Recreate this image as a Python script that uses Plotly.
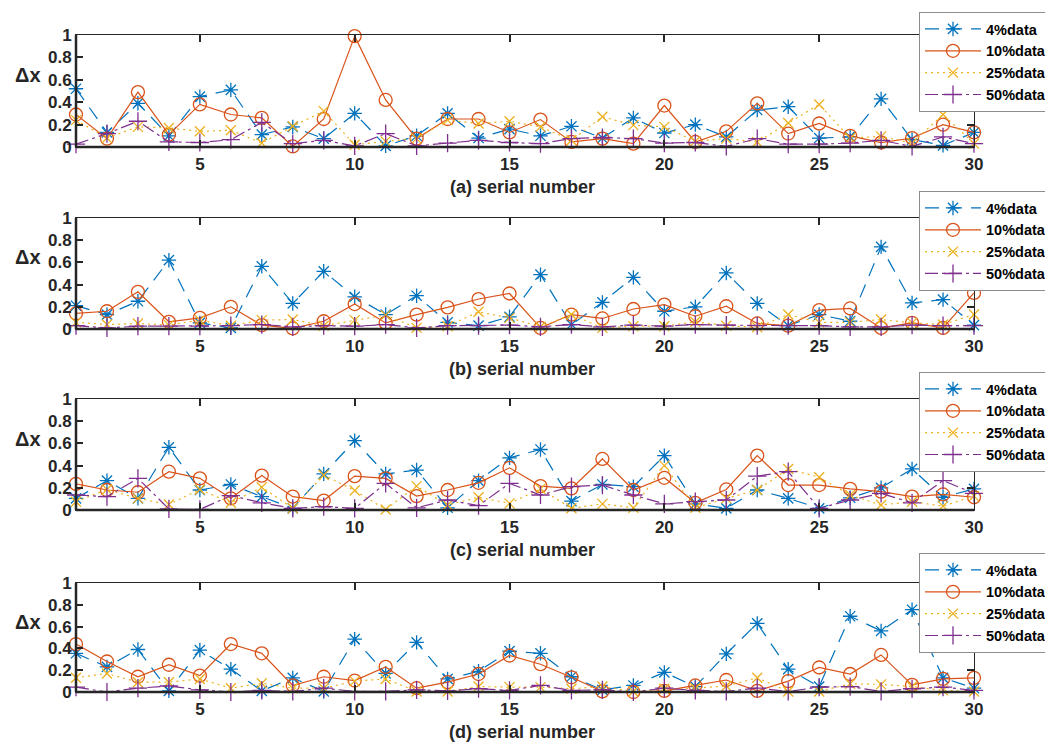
import plotly.graph_objects as go
from plotly.subplots import make_subplots

x = list(range(1, 31))
series_names = ["4%data", "10%data", "25%data", "50%data"]
panel_titles = ["(a) serial number", "(b) serial number", "(c) serial number", "(d) serial number"]

a_4 = [0.52,0.13,0.39,0.10,0.45,0.51,0.11,0.18,0.075,0.30,0.01,0.10,0.30,0.08,0.16,0.10,0.185,0.08,0.26,0.125,0.20,0.09,0.33,0.36,0.08,0.09,0.43,0.065,0.015,0.13]
a_10 = [0.29,0.075,0.49,0.11,0.38,0.29,0.26,0.005,0.25,0.99,0.42,0.075,0.25,0.25,0.13,0.245,0.045,0.075,0.03,0.37,0.045,0.14,0.39,0.12,0.21,0.10,0.04,0.08,0.20,0.13]
a_25 = [0.24,0.08,0.18,0.17,0.14,0.15,0.035,0.185,0.32,0.02,0.05,0.075,0.24,0.21,0.23,0.18,0.06,0.27,0.195,0.18,0.05,0.075,0.045,0.215,0.38,0.08,0.095,0.035,0.29,0.03]
a_50 = [0.025,0.12,0.23,0.045,0.04,0.065,0.22,0.03,0.06,0.01,0.12,0.01,0.035,0.06,0.04,0.03,0.075,0.085,0.075,0.035,0.04,0.005,0.075,0.025,0.025,0.035,0.06,0.005,0.09,0.03]

b_4 = [0.21,0.13,0.25,0.62,0.055,0.01,0.565,0.23,0.52,0.29,0.13,0.30,0.06,0.03,0.11,0.49,0.04,0.24,0.465,0.16,0.20,0.505,0.23,0.03,0.13,0.07,0.74,0.235,0.265,0.035]
b_10 = [0.14,0.16,0.335,0.065,0.10,0.20,0.035,0.005,0.07,0.225,0.055,0.13,0.195,0.27,0.32,0.01,0.13,0.095,0.18,0.22,0.115,0.205,0.05,0.03,0.17,0.185,0.01,0.055,0.01,0.325]
b_25 = [0.06,0.04,0.05,0.035,0.08,0.03,0.08,0.085,0.03,0.08,0.125,0.01,0.025,0.155,0.10,0.02,0.13,0.01,0.025,0.025,0.065,0.03,0.015,0.13,0.06,0.06,0.085,0.055,0.04,0.13]
b_50 = [0.03,0.01,0.025,0.025,0.025,0.03,0.04,0.02,0.03,0.025,0.04,0.01,0.03,0.03,0.035,0.02,0.04,0.02,0.035,0.025,0.04,0.035,0.03,0.03,0.03,0.02,0.02,0.035,0.03,0.03]

c_4 = [0.105,0.265,0.105,0.565,0.18,0.23,0.12,0.015,0.325,0.625,0.325,0.36,0.02,0.265,0.47,0.545,0.08,0.23,0.21,0.49,0.055,0.015,0.18,0.105,0.015,0.11,0.20,0.37,0.115,0.19]
c_10 = [0.235,0.18,0.16,0.345,0.285,0.105,0.31,0.12,0.085,0.305,0.285,0.125,0.18,0.245,0.38,0.215,0.195,0.46,0.18,0.29,0.065,0.185,0.49,0.225,0.225,0.19,0.165,0.12,0.14,0.115]
c_25 = [0.075,0.185,0.105,0.05,0.185,0.065,0.205,0.015,0.315,0.175,0.005,0.215,0.045,0.115,0.06,0.19,0.015,0.055,0.02,0.40,0.02,0.105,0.18,0.37,0.295,0.135,0.045,0.075,0.035,0.125]
c_50 = [0.135,0.12,0.285,0.01,0.005,0.13,0.065,0.015,0.03,0.015,0.24,0.02,0.09,0.04,0.24,0.135,0.21,0.225,0.135,0.055,0.075,0.09,0.305,0.345,0.015,0.09,0.15,0.065,0.265,0.15]

d_4 = [0.355,0.23,0.39,0.01,0.385,0.21,0.01,0.13,0.005,0.485,0.17,0.455,0.12,0.19,0.375,0.355,0.14,0.02,0.06,0.18,0.05,0.35,0.63,0.21,0.05,0.695,0.56,0.755,0.13,0.035]
d_10 = [0.44,0.28,0.14,0.25,0.15,0.44,0.355,0.06,0.14,0.105,0.23,0.035,0.09,0.165,0.335,0.255,0.135,0.005,0.0,0.01,0.06,0.11,0.01,0.10,0.225,0.165,0.34,0.065,0.12,0.13]
d_25 = [0.13,0.17,0.09,0.09,0.12,0.035,0.08,0.035,0.035,0.10,0.12,0.005,0.005,0.05,0.045,0.045,0.03,0.05,0.005,0.03,0.035,0.055,0.13,0.005,0.005,0.075,0.07,0.05,0.015,0.005]
d_50 = [0.045,0.0,0.035,0.055,0.02,0.0,0.015,0.005,0.035,0.005,0.005,0.02,0.01,0.03,0.015,0.06,0.015,0.02,0.0,0.035,0.015,0.005,0.035,0.005,0.045,0.05,0.005,0.03,0.045,0.015]

panels = [[a_4, a_10, a_25, a_50], [b_4, b_10, b_25, b_50],
          [c_4, c_10, c_25, c_50], [d_4, d_10, d_25, d_50]]

colors = ["#0072BD", "#D95319", "#EDB120", "#7E2F8E"]
dashes = ["14px,9px", "solid", "2px,4px", "13px,4px,3px,4px"]
symbols = ["asterisk-open", "circle-open", "x-thin-open", "cross-thin-open"]
sizes = [12, 13, 10, 13]

# page body has an 8px margin: the figure is placed at (8, 8) in the window
OFF = 8
W, H = 1053 - OFF, 746 - OFF
FONT = "Liberation Sans, Arial, sans-serif"
TXT = "#262626"


def fx(px):
    return (px - OFF) / W


def fy(py):
    return 1 - (py - OFF) / H


# window-pixel geometry of each plot area
x_left, x_right = 76, 974
y_px = [(35, 147), (218, 329), (399, 510), (583, 692)]
legend_top = [12, 191, 372, 553]

fig = make_subplots(rows=4, cols=1)

for p, data in enumerate(panels):
    row = p + 1
    leg = "legend" if p == 0 else f"legend{row}"
    for s in range(4):
        fig.add_trace(go.Scatter(
            x=x, y=data[s], name=series_names[s], mode="lines+markers",
            line=dict(color=colors[s], width=1.2, dash=dashes[s]),
            marker=dict(symbol=symbols[s], size=sizes[s], color=colors[s],
                        line=dict(color=colors[s], width=1.3)),
            cliponaxis=False, legend=leg, showlegend=True,
        ), row=row, col=1)

    top, bot = y_px[p]
    xa = "xaxis" if p == 0 else f"xaxis{row}"
    ya = "yaxis" if p == 0 else f"yaxis{row}"
    fig.layout[xa].update(
        domain=[fx(x_left), fx(x_right)], range=[1, 30], automargin=False,
        tickvals=[5, 10, 15, 20, 25, 30], ticks="inside", ticklen=7, tickwidth=1.5,
        tickcolor=TXT, showline=True, linecolor=TXT, linewidth=1, mirror="ticks",
        showgrid=False, zeroline=False, ticklabelstandoff=2,
        tickfont=dict(family=FONT, size=17, color=TXT, weight="bold"),
    )
    fig.layout[ya].update(
        domain=[fy(bot), fy(top)], range=[0, 1], automargin=False,
        tickvals=[0, 0.2, 0.4, 0.6, 0.8, 1], ticktext=["0", "0.2", "0.4", "0.6", "0.8", "1"],
        ticks="inside", ticklen=7, tickwidth=1.5, tickcolor=TXT,
        showline=True, linecolor=TXT, linewidth=1, mirror="ticks",
        showgrid=False, zeroline=False,
        tickfont=dict(family=FONT, size=17, color=TXT, weight="bold"),
    )
    xref = "x" if p == 0 else f"x{row}"
    yref = "y" if p == 0 else f"y{row}"
    # thicker bottom & left axis lines
    fig.add_shape(type="line", xref=f"{xref} domain", yref=f"{yref} domain",
                  x0=0, x1=1, y0=0, y1=0, line=dict(color=TXT, width=2.5))
    fig.add_shape(type="line", xref=f"{xref} domain", yref=f"{yref} domain",
                  x0=0, x1=0, y0=0, y1=1, line=dict(color=TXT, width=2.5))
    # x title
    fig.add_annotation(text=panel_titles[p], xref="paper", yref="paper",
                       x=fx(522), y=fy(bot + 40),
                       showarrow=False, xanchor="center", yanchor="middle",
                       font=dict(family=FONT, size=18, color=TXT, weight="bold"))
    # y label
    fig.add_annotation(text="Δx", xref="paper", yref="paper",
                       x=fx(28), y=fy((top + bot) / 2 - 16),
                       showarrow=False, xanchor="center", yanchor="middle",
                       font=dict(family=FONT, size=20, color=TXT, weight="bold"))
    fig.layout[leg] = dict(
        x=fx(919), y=fy(legend_top[p]), xanchor="left", yanchor="top",
        bgcolor="white", bordercolor="#8c8c8c", borderwidth=1,
        font=dict(family=FONT, size=14.5, color="black", weight="bold"),
        tracegroupgap=0, itemwidth=56, traceorder="normal",
        entrywidth=100, entrywidthmode="pixels",
    )

fig.update_layout(
    width=W, height=H, margin=dict(l=0, r=0, t=0, b=0, autoexpand=False),
    paper_bgcolor="white", plot_bgcolor="white",
)

fig.write_html("out.html")
